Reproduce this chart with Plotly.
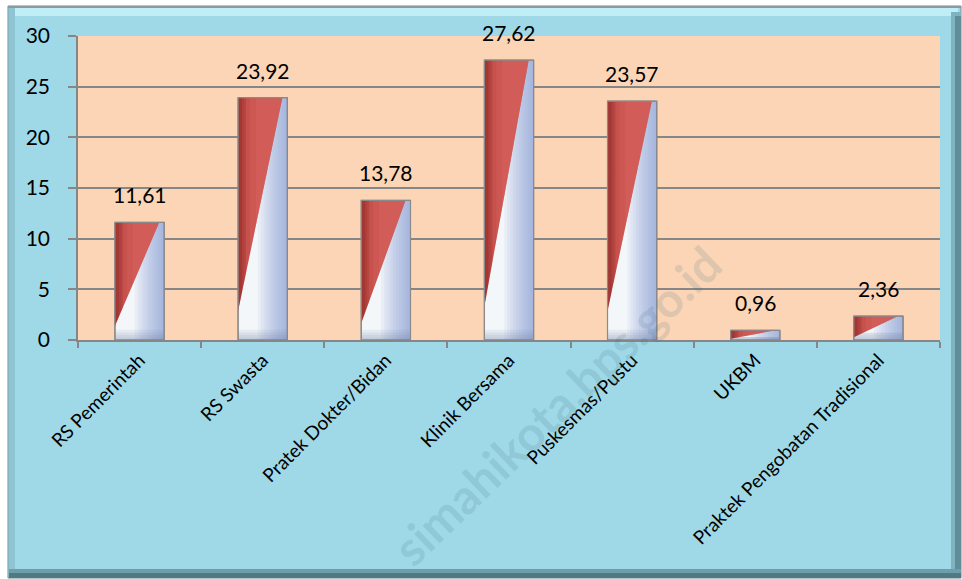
import plotly.graph_objects as go

# Data
categories = ["RS Pemerintah", "RS Swasta", "Pratek Dokter/Bidan", "Klinik Bersama",
              "Puskesmas/Pustu", "UKBM", "Praktek Pengobatan Tradisional"]
values = [11.61, 23.92, 13.78, 27.62, 23.57, 0.96, 2.36]
value_labels = ["11,61", "23,92", "13,78", "27,62", "23,57", "0,96", "2,36"]
y_ticks = [0, 5, 10, 15, 20, 25, 30]

FONT = "Lato, Carlito, Calibri, sans-serif"
W, H = 962, 579
BAR_W = 0.40
xs = list(range(len(categories)))

fig = go.Figure()

# Base bar (white/silver body)
fig.add_trace(go.Bar(
    x=xs, y=values, width=BAR_W,
    marker=dict(color="#f4f7fa", line=dict(color="#7d7d7d", width=1)),
    hoverinfo="skip", showlegend=False,
))


def poly_trace(polys, color):
    px, py = [], []
    for pts in polys:
        for (a, b) in pts + [pts[0]]:
            px.append(a)
            py.append(b)
        px.append(None)
        py.append(None)
    return go.Scatter(x=px, y=py, mode="lines", fill="toself", fillcolor=color,
                      line=dict(width=0), hoverinfo="skip", showlegend=False)


def diag(v, f):
    # height of the red/white split at fraction f of the bar width
    y0 = 0.12 * v
    return y0 + (v - y0) * min(f / 0.9, 1.0)


# Blue shading building up towards the right side of each bar
for k in range(10):
    f = 0.40 + k * 0.06
    polys = []
    for i, v in zip(xs, values):
        xl = i - BAR_W / 2
        xr = i + BAR_W / 2
        polys.append([(xl + f * BAR_W, 0), (xr, 0), (xr, v), (xl + f * BAR_W, v)])
    fig.add_trace(poly_trace(polys, "rgba(110,140,195,0.075)"))

# Bluish-grey shading at the base of each bar
for k in range(4):
    polys = []
    for i, v in zip(xs, values):
        xl = i - BAR_W / 2
        xr = i + BAR_W / 2
        h = min(0.25 * (k + 1), v * 0.3)
        polys.append([(xl, 0), (xr, 0), (xr, h), (xl, h)])
    fig.add_trace(poly_trace(polys, "rgba(110,130,165,0.10)"))

# Red upper-left triangle
polys = []
for i, v in zip(xs, values):
    xl = i - BAR_W / 2
    polys.append([(xl, diag(v, 0)), (xl, v), (xl + 0.9 * BAR_W, v)])
fig.add_trace(poly_trace(polys, "#bf4a46"))

# Lighter red towards the middle of the red part
for f in [0.12, 0.24, 0.36]:
    polys = []
    for i, v in zip(xs, values):
        xl = i - BAR_W / 2
        polys.append([(xl + f * BAR_W, diag(v, f)), (xl + f * BAR_W, v),
                      (xl + 0.9 * BAR_W, v)])
    fig.add_trace(poly_trace(polys, "rgba(235,115,110,0.18)"))

# Darker red along the left edge
for f in [0.08, 0.16]:
    polys = []
    for i, v in zip(xs, values):
        xl = i - BAR_W / 2
        polys.append([(xl, diag(v, 0)), (xl, v), (xl + f * BAR_W, v),
                      (xl + f * BAR_W, diag(v, f))])
    fig.add_trace(poly_trace(polys, "rgba(100,15,15,0.16)"))

# Bar outline on top
px, py = [], []
for i, v in zip(xs, values):
    xl = i - BAR_W / 2
    xr = i + BAR_W / 2
    for (a, b) in [(xl, 0), (xl, v), (xr, v), (xr, 0), (xl, 0)]:
        px.append(a)
        py.append(b)
    px.append(None)
    py.append(None)
fig.add_trace(go.Scatter(x=px, y=py, mode="lines", line=dict(color="#8a8a8a", width=1.2),
                         hoverinfo="skip", showlegend=False))

# Value labels
for i, v, t in zip(xs, values, value_labels):
    fig.add_annotation(x=i, y=v, text=t, showarrow=False, yanchor="bottom", yshift=13,
                       font=dict(family=FONT, size=21, color="#000000"))

# Chart frame with bevelled edges (pixel positions converted to paper units)
L, R, T, B = 78, 22, 36, 239
pw, ph = W - L - R, H - T - B


def px2paper(x, y):
    return (x - L) / pw, (H - B - y) / ph


def rect(x0, y0, x1, y1, fill, line_color=None, lw=0):
    a0, b0 = px2paper(x0, y0)
    a1, b1 = px2paper(x1, y1)
    fig.add_shape(type="rect", xref="paper", yref="paper", x0=a0, y0=b1, x1=a1, y1=b0,
                  fillcolor=fill, line=dict(color=line_color or fill, width=lw), layer="below")


rect(8, 6, 961, 578, "#9fd9e8", "#6b8f98", 1)
rect(8, 6, 961, 8, "#8a9aa0")
rect(9, 8, 958, 16, "#bfeef7")
rect(9, 8, 15, 570, "#8fc5d3")
rect(951, 12, 961, 578, "#7fb3c0")
rect(955, 16, 961, 578, "#5f8e99")
rect(9, 569, 961, 578, "#6e9ea9")
rect(9, 573, 961, 578, "#4f7a84")
# plot area fill
fig.add_shape(type="rect", xref="paper", yref="paper", x0=0, y0=0, x1=1, y1=1,
              fillcolor="#fbd5b5", line=dict(width=0), layer="below")

# Watermark
wx, wy = px2paper(556, 405)
fig.add_annotation(xref="paper", yref="paper", x=wx, y=wy, xanchor="center", yanchor="middle",
                   text="<b>simahikota.bps.go.id</b>", showarrow=False, textangle=-44,
                   font=dict(family=FONT, size=48, color="rgba(60,110,130,0.15)"))

fig.update_layout(
    width=W, height=H,
    margin=dict(l=L, r=R, t=T, b=B, pad=0),
    paper_bgcolor="#ffffff",
    plot_bgcolor="rgba(0,0,0,0)",
    font=dict(family=FONT, color="#000000"),
    showlegend=False,
    xaxis=dict(
        range=[-0.5, len(categories) - 0.5],
        tickmode="array", tickvals=xs, ticktext=categories,
        tickangle=-45, ticks="", showgrid=False, zeroline=False,
        showline=True, linecolor="#868686", linewidth=1.5,
        tickfont=dict(family=FONT, size=19, color="#000000"),
        minor=dict(tickmode="array", tickvals=[i - 0.5 for i in range(len(categories) + 1)],
                   ticks="outside", ticklen=6, tickcolor="#868686", tickwidth=1.5,
                   showgrid=False),
        fixedrange=True,
    ),
    yaxis=dict(
        range=[0, 30], tickmode="array", tickvals=y_ticks,
        ticks="outside", ticklen=8, tickcolor="#868686", tickwidth=1.5,
        showgrid=True, gridcolor="#868686", gridwidth=1.5,
        zeroline=False, showline=True, linecolor="#868686", linewidth=1.5,
        tickfont=dict(family=FONT, size=21, color="#000000"),
        ticklabelstandoff=14,
        fixedrange=True,
    ),
)

fig.write_html("out.html")
